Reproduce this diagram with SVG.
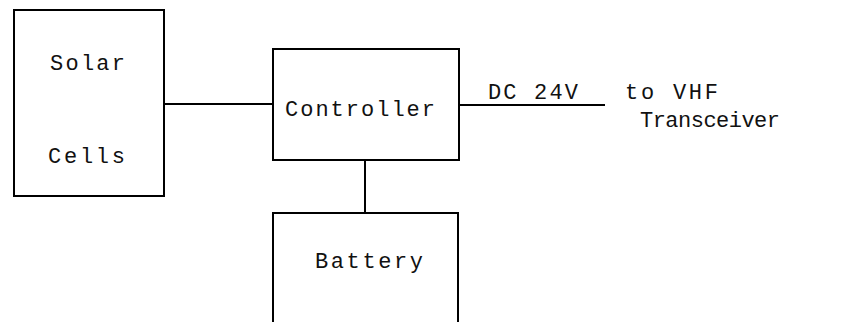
<svg xmlns="http://www.w3.org/2000/svg" width="851" height="322" viewBox="0 0 851 322">
<style>
.box{fill:none;stroke:#000;stroke-width:2}
.ln{fill:none;stroke:#000;stroke-width:2}
text{font-family:"Liberation Mono",monospace;font-size:22px;fill:#111}
</style>
<rect width="851" height="322" fill="#fff"/>
<g id="solar">
<rect class="box" x="14" y="10" width="150" height="186"/>
<text x="50" y="70" textLength="75" lengthAdjust="spacing">Solar</text>
<text x="48" y="163" textLength="77" lengthAdjust="spacing">Cells</text>
</g>
<g id="controller">
<rect class="box" x="273" y="49" width="186" height="111"/>
<text x="285" y="116" textLength="150" lengthAdjust="spacing">Controller</text>
</g>
<g id="battery">
<path class="box" d="M273,322 V213 H458 V322"/>
<text x="315" y="268" textLength="108" lengthAdjust="spacing">Battery</text>
</g>
<g id="output">
<text x="488" y="99" textLength="90" lengthAdjust="spacing">DC 24V</text>
<text x="625" y="99" textLength="93" lengthAdjust="spacing">to VHF</text>
<text x="640" y="127" textLength="140" lengthAdjust="spacing">Transceiver</text>
</g>
<g id="connectors">
<line class="ln" x1="164" y1="104" x2="273" y2="104"/>
<line class="ln" x1="459" y1="105" x2="605" y2="105"/>
<line class="ln" x1="365" y1="160" x2="365" y2="213"/>
</g>
</svg>
